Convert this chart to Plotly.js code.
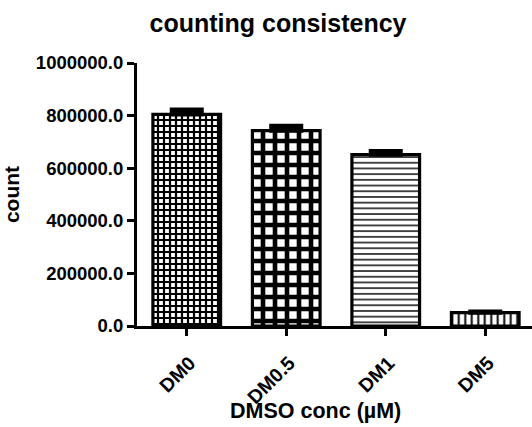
<!DOCTYPE html>
<html>
<head>
<meta charset="utf-8">
<script src="https://cdn.plot.ly/plotly-3.0.1.min.js"></script>
<style>html,body{margin:0;padding:0;background:#fff;}#chart{width:532px;height:427px;}</style>
</head>
<body>
<div id="chart"></div>
<script>
// Data
const categories = ["DM0", "DM0.5", "DM1", "DM5"];
const counts = [805000, 743000, 652000, 51000];
const errorsUp = [17000, 17000, 12000, 3000];
const yTickValues = [0, 200000, 400000, 600000, 800000, 1000000];

const patternShapes = ["+", "+", "-", "|"];
const patternSizes = [6, 12, 5.7, 6.5];
const patternSolidity = [0.6, 0.62, 0.25, 0.3];

const FONT = "Liberation Sans, Arial, sans-serif";

const trace = {
  type: "bar",
  x: categories,
  y: counts,
  width: 0.68,
  marker: {
    color: "#ffffff",
    line: { color: "#000000", width: 3.2 },
    pattern: {
      shape: patternShapes,
      size: patternSizes,
      solidity: patternSolidity,
      fgcolor: "#000000",
      bgcolor: "#ffffff",
      fgopacity: 1,
      fillmode: "replace"
    }
  },
  error_y: {
    type: "data",
    symmetric: false,
    array: errorsUp,
    arrayminus: [0, 0, 0, 0],
    color: "#000000",
    thickness: 4.5,
    width: 17
  },
  hoverinfo: "none"
};

const layout = {
  width: 532,
  height: 427,
  margin: { l: 137, r: 0, t: 63, b: 101 },
  paper_bgcolor: "#ffffff",
  plot_bgcolor: "#ffffff",
  showlegend: false,
  font: { family: FONT, color: "#000000", weight: "bold" },
  title: {
    text: "counting consistency",
    font: { family: FONT, size: 25, weight: "bold", color: "#000000" },
    x: 278 / 532,
    xref: "container",
    xanchor: "center",
    y: 1 - 23 / 427,
    yref: "container",
    yanchor: "middle"
  },
  xaxis: {
    type: "category",
    range: [-0.5, 3.47],
    showline: true,
    linecolor: "#000000",
    linewidth: 3,
    ticks: "outside",
    ticklen: 7,
    tickwidth: 3,
    tickcolor: "#000000",
    tickangle: -45,
    ticklabelstandoff: 8,
    ticklabelshift: 3,
    tickfont: { family: FONT, size: 19.5, weight: "bold", color: "#000000" },
    showgrid: false,
    zeroline: false
  },
  yaxis: {
    range: [0, 1000000],
    tickvals: yTickValues,
    tickformat: ".1f",
    showline: true,
    linecolor: "#000000",
    linewidth: 3,
    ticks: "outside",
    ticklen: 7,
    tickwidth: 3,
    tickcolor: "#000000",
    tickfont: { family: FONT, size: 18.5, weight: "bold", color: "#000000" },
    showgrid: false,
    zeroline: false,
    title: {
      text: "count",
      font: { family: FONT, size: 21, weight: "bold", color: "#000000" },
      standoff: 12
    }
  },
  annotations: [{
    text: "DMSO conc (µM)",
    xref: "paper",
    yref: "paper",
    x: (315 - 137) / 395,
    y: 0,
    yshift: -85,
    xanchor: "center",
    yanchor: "middle",
    showarrow: false,
    font: { family: FONT, size: 21.5, weight: "bold", color: "#000000" }
  }]
};

Plotly.newPlot("chart", [trace], layout, { displayModeBar: false, staticPlot: true });
</script>
</body>
</html>
